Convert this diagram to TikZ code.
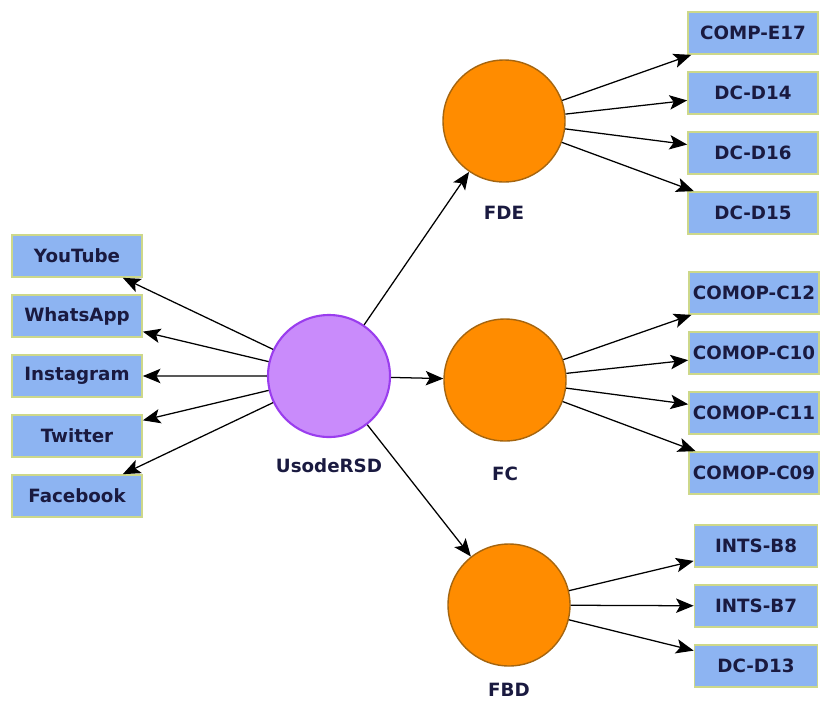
\documentclass[tikz,border=0pt]{standalone}
\usepackage{fontspec}
\setmainfont{DejaVu Sans}
\usepackage{xcolor}
\usetikzlibrary{shapes.geometric, arrows.meta, positioning}
\definecolor{boxblue}{HTML}{8DB4F2}
\definecolor{boxline}{HTML}{CDD88A}
\definecolor{nodeorange}{HTML}{FF8C00}
\definecolor{orangeline}{HTML}{A5650F}
\definecolor{nodepurple}{HTML}{C98BFB}
\definecolor{purpleline}{HTML}{9A3DEE}
\definecolor{labelnavy}{HTML}{1A1A40}
\tikzstyle{arrow} = [line width=0.9pt, -{Stealth[length=4.4mm, width=3.6mm, inset=1mm]}]
\tikzstyle{itembox} = [rectangle, draw=boxline, line width=1.2pt, fill=boxblue, minimum width=3.25cm, minimum height=1.05cm, inner sep=1pt, text=labelnavy, font=\bfseries\fontsize{13}{15}\selectfont]
\tikzstyle{factor} = [circle, draw=orangeline, line width=1pt, fill=nodeorange, minimum size=3.05cm]
\tikzstyle{hub} = [circle, draw=purpleline, line width=1.5pt, fill=nodepurple, minimum size=3.05cm]
\tikzstyle{caption} = [text=labelnavy, font=\bfseries\fontsize{13}{15}\selectfont]

\begin{document}
\begin{tikzpicture}[node distance=1.5cm]
    \useasboundingbox (0,0) rectangle (20.5,-17.6);

    \node (rsd) [hub] at (8.225,-9.4) {};
    \node (fde) [factor] at (12.6,-3.025) {};
    \node (fc) [factor] at (12.625,-9.5) {};
    \node (fbd) [factor] at (12.725,-15.125) {};

    \node (rsdlab) [caption, below=0.4cm of rsd] {UsodeRSD};
    \node (fdelab) [caption, below=0.47cm of fde] {FDE};
    \node (fclab) [caption, below=0.5cm of fc] {FC};
    \node (fbdlab) [caption, below=0.28cm of fbd] {FBD};

    % redes sociales
    \node (yt) [itembox] at (1.925,-6.4) {YouTube};
    \node (wa) [itembox, below of=yt] {WhatsApp};
    \node (ig) [itembox, below of=wa] {Instagram};
    \node (tw) [itembox, below of=ig] {Twitter};
    \node (fb) [itembox, below of=tw] {Facebook};

    % FDE
    \node (e17) [itembox] at (18.825,-0.825) {COMP-E17};
    \node (d14) [itembox, below of=e17] {DC-D14};
    \node (d16) [itembox, below of=d14] {DC-D16};
    \node (d15) [itembox, below of=d16] {DC-D15};

    % FC
    \node (c12) [itembox] at (18.85,-7.325) {COMOP-C12};
    \node (c10) [itembox, below of=c12] {COMOP-C10};
    \node (c11) [itembox, below of=c10] {COMOP-C11};
    \node (c09) [itembox, below of=c11] {COMOP-C09};

    % FBD
    \node (b8) [itembox, minimum width=3.075cm] at (18.9,-13.65) {INTS-B8};
    \node (b7) [itembox, minimum width=3.075cm, below of=b8] {INTS-B7};
    \node (d13) [itembox, minimum width=3.075cm, below of=b7] {DC-D13};

    \path[arrow]
        (rsd) edge (yt) edge (wa) edge (ig) edge (tw) edge (fb)
              edge (fde) edge (fc) edge (fbd)
        (fde) edge (e17) edge (d14) edge (d16) edge (d15)
        (fc) edge (c12) edge (c10) edge (c11) edge (c09)
        (fbd) edge (b8) edge (b7) edge (d13);
\end{tikzpicture}
\end{document}
